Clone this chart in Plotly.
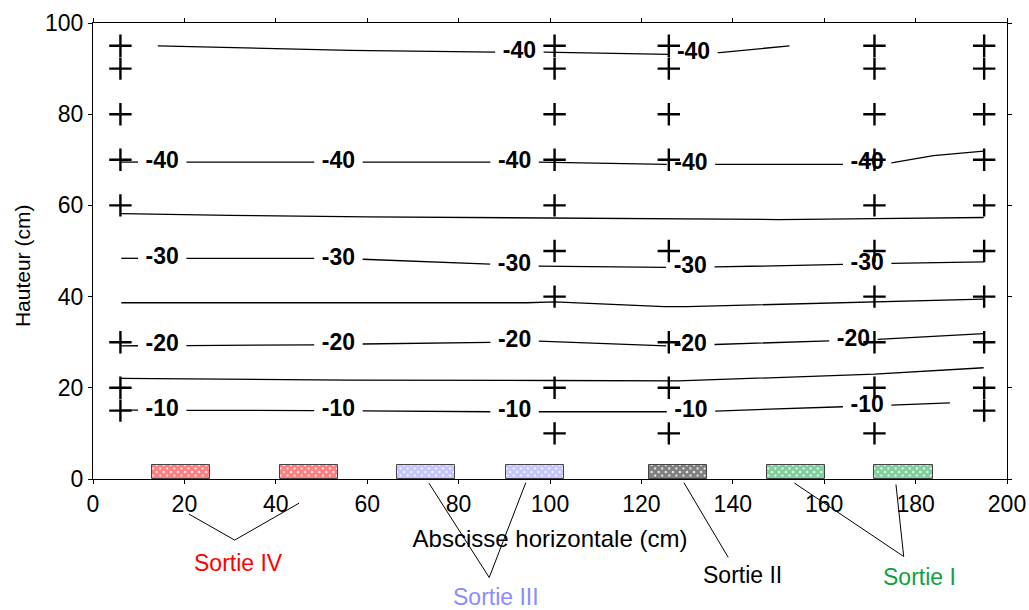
import numpy as np
import plotly.graph_objects as go

FONT = "Liberation Sans, Arial, sans-serif"

# Measurement points (cm): probe columns and the heights sampled in each
col_x = [6, 101, 126, 171, 195]
col_heights = [
    [95, 90, 80, 70, 60, 30, 20, 15],
    [95, 90, 80, 70, 60, 50, 40, 20, 10],
    [95, 90, 80, 70, 50, 30, 20, 10],
    [95, 90, 80, 70, 60, 50, 40, 30, 20, 10],
    [95, 90, 80, 70, 60, 50, 40, 30, 20, 15],
]

# Isotherms: polyline points (x, y in cm), level label and label abscissas
iso_a_x = [14.2, 56.2, 88.1, 98.5, 125.6, 137.1, 152.4]
iso_a_y = [95.0, 94.0, 93.6, 93.6, 93.1, 93.5, 95.0]
iso_a_level = "-40"
iso_a_labels = [93.3, 131.4]

iso_b_x = [6.2, 48.5, 58.9, 87.1, 97.4, 125.6, 136.1, 164.2, 174.6, 183.9, 194.9]
iso_b_y = [69.5, 69.5, 69.5, 69.5, 69.5, 69.0, 69.0, 69.0, 69.3, 70.9, 71.9]
iso_b_level = "-40"
iso_b_labels = [15.15, 53.7, 92.25, 130.85, 169.4]

iso_c_x = [6.2, 30, 60, 100, 126, 150, 171, 194.9]
iso_c_y = [58.2, 57.8, 57.5, 57.3, 57.1, 56.9, 57.1, 57.35]

iso_d_x = [6.2, 48.5, 58.9, 87.1, 97.4, 125.3, 136.1, 164.2, 174.6, 194.9]
iso_d_y = [48.4, 48.4, 48.2, 47.1, 46.7, 46.4, 46.5, 47.05, 47.3, 47.6]
iso_d_level = "-30"
iso_d_labels = [15.15, 53.7, 92.2, 130.7, 169.4]

iso_e_x = [6.2, 56, 95, 101, 125, 130, 171, 194.9]
iso_e_y = [38.65, 38.65, 38.65, 38.85, 37.8, 37.8, 38.85, 39.45]

iso_f_x = [6.2, 48.5, 58.9, 87.1, 97.4, 110.2, 124.8, 136.1, 161.3, 171.5, 194.9]
iso_f_y = [29.2, 29.4, 29.6, 29.95, 30.25, 29.75, 29.2, 29.5, 30.3, 30.6, 31.9]
iso_f_level = "-20"
iso_f_labels = [15.15, 53.7, 92.25, 130.7, 166.4]

iso_g_x = [6.2, 56, 100, 128, 171, 194.9]
iso_g_y = [22.05, 21.7, 21.6, 21.5, 23.0, 24.4]

iso_h_x = [6.2, 48.5, 58.9, 87.1, 97.4, 125.6, 136.1, 164.2, 174.6, 187.5]
iso_h_y = [15.1, 15.0, 14.95, 14.75, 14.75, 14.75, 14.9, 15.85, 16.2, 16.7]
iso_h_level = "-10"
iso_h_labels = [15.15, 53.7, 92.25, 130.85, 169.4]

# Outlets along the floor (left edge in cm), common width and height
outlet_width = 12.7
outlet_height = 3
sortie_iv_x0 = [13.0, 41.0]
sortie_iii_x0 = [66.6, 90.3]
sortie_ii_x0 = [121.7]
sortie_i_x0 = [147.4, 171.0]

X_RANGE = (0, 200)
Y_RANGE = (0, 100)
LABEL_HALF_GAP = 5.3


def split_at_labels(xs, ys, label_x, half_gap):
    """Break an isoline around its inline labels."""
    xs = np.asarray(xs, float)
    ys = np.asarray(ys, float)
    cuts = [(xl - half_gap, xl + half_gap) for xl in label_x]
    pts = set(xs.tolist())
    for a, b in cuts:
        for c in (a, b):
            if xs[0] <= c <= xs[-1]:
                pts.add(c)
    pts = sorted(p for p in pts if not any(a < p < b for a, b in cuts))
    out_x, out_y = [], []
    for p in pts:
        if out_x and any(a < (out_x[-1] + p) / 2 < b for a, b in cuts):
            out_x.append(None)
            out_y.append(None)
        out_x.append(p)
        out_y.append(float(np.interp(p, xs, ys)))
    return out_x, out_y


def paper_x(x):
    return (x - X_RANGE[0]) / (X_RANGE[1] - X_RANGE[0])


def paper_y(y):
    return (y - Y_RANGE[0]) / (Y_RANGE[1] - Y_RANGE[0])


fig = go.Figure()

# Outlets drawn as hatched bars sitting on the floor
outlets = [
    (sortie_iv_x0, "#ff0000"),
    (sortie_iii_x0, "#8c8cff"),
    (sortie_ii_x0, "#000000"),
    (sortie_i_x0, "#00a040"),
]
for x0s, colour in outlets:
    centres = [x0 + outlet_width / 2 for x0 in x0s]
    fig.add_trace(go.Bar(
        x=centres, y=[outlet_height] * len(x0s), width=outlet_width,
        marker=dict(
            color="white",
            line=dict(color="#444444", width=1),
            pattern=dict(shape="x", fgcolor=colour, bgcolor="white",
                         size=5, solidity=0.85),
        ),
        hoverinfo="skip", showlegend=False,
    ))

isolines = [
    (iso_a_x, iso_a_y, iso_a_level, iso_a_labels),
    (iso_b_x, iso_b_y, iso_b_level, iso_b_labels),
    (iso_c_x, iso_c_y, None, []),
    (iso_d_x, iso_d_y, iso_d_level, iso_d_labels),
    (iso_e_x, iso_e_y, None, []),
    (iso_f_x, iso_f_y, iso_f_level, iso_f_labels),
    (iso_g_x, iso_g_y, None, []),
    (iso_h_x, iso_h_y, iso_h_level, iso_h_labels),
]
lab_x, lab_y, lab_t = [], [], []
for xs, ys, level, labels in isolines:
    sx, sy = split_at_labels(xs, ys, labels, LABEL_HALF_GAP)
    fig.add_trace(go.Scatter(
        x=sx, y=sy, mode="lines", line=dict(color="black", width=1.3),
        hoverinfo="skip", showlegend=False, connectgaps=False,
    ))
    for xl in labels:
        lab_x.append(xl)
        lab_y.append(float(np.interp(xl, xs, ys)))
        lab_t.append(level)

fig.add_trace(go.Scatter(
    x=lab_x, y=lab_y, text=lab_t, mode="text",
    textfont=dict(family=FONT, size=23, color="black", weight="bold"),
    textposition="middle center", cliponaxis=False,
    hoverinfo="skip", showlegend=False,
))

# Probe positions
px_list, py_list = [], []
for cx, heights in zip(col_x, col_heights):
    for h in heights:
        px_list.append(cx)
        py_list.append(h)
fig.add_trace(go.Scatter(
    x=px_list, y=py_list, mode="markers",
    marker=dict(symbol="cross-thin", size=16, line=dict(color="black", width=2.4)),
    cliponaxis=False, hoverinfo="skip", showlegend=False,
))

# Leader lines from the outlets to their captions (cm, below the floor)
leaders = [
    [(21.0, -7.7), (31.0, -13.4), (45.1, -5.3)],
    [(73.5, -0.9), (86.7, -21.6), (94.7, -0.8)],
    [(129.3, -0.8), (139.0, -17.2)],
    [(153.5, -0.9), (177.4, -17.0), (175.7, -1.2)],
]
shapes = []
for pts in leaders:
    for (xa, ya), (xb, yb) in zip(pts[:-1], pts[1:]):
        shapes.append(dict(
            type="line", xref="paper", yref="paper",
            x0=paper_x(xa), y0=paper_y(ya), x1=paper_x(xb), y1=paper_y(yb),
            line=dict(color="black", width=1),
        ))

captions = [
    ("Sortie IV", 31.9, -18.4, "#ff0000"),
    ("Sortie III", 88.1, -25.9, "#8c8cff"),
    ("Sortie II", 142.2, -21.0, "#000000"),
    ("Sortie I", 180.8, -21.5, "#10a040"),
]
annotations = [
    dict(text=t, x=paper_x(x), y=paper_y(y), xref="paper", yref="paper",
         showarrow=False, font=dict(family=FONT, size=23, color=c),
         xanchor="center", yanchor="middle", borderpad=0)
    for t, x, y, c in captions
]
# Vertical axis title
annotations.append(dict(
    text="Hauteur (cm)", x=-0.0777, y=0.469, xref="paper", yref="paper",
    showarrow=False, textangle=-90, xanchor="center", yanchor="middle",
    font=dict(family=FONT, size=21, color="black"),
))

axis_common = dict(
    showline=True, linecolor="black", linewidth=1, mirror="ticks",
    ticks="outside", ticklen=4, tickwidth=1, tickcolor="black",
    showgrid=False, zeroline=False, automargin=False,
    tickfont=dict(family=FONT, size=23, color="black"),
)

fig.update_layout(
    width=1029, height=610,
    margin=dict(l=93, r=22, t=23, b=131, autoexpand=False),
    paper_bgcolor="white", plot_bgcolor="white",
    barmode="overlay", bargap=0,
    xaxis=dict(
        range=list(X_RANGE), tickvals=list(range(0, 201, 20)),
        title=dict(text="Abscisse horizontale (cm)",
                   font=dict(family=FONT, size=24, color="black"), standoff=14),
        **axis_common,
    ),
    yaxis=dict(
        range=list(Y_RANGE), tickvals=list(range(0, 101, 20)),
        **axis_common,
    ),
    shapes=shapes,
    annotations=annotations,
    font=dict(family=FONT, color="black"),
)

fig.write_html("out.html")
